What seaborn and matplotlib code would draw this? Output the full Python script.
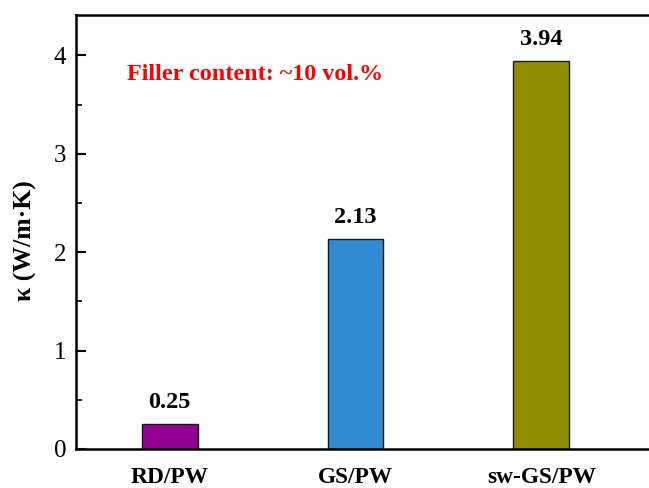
import matplotlib
matplotlib.use("Agg")
import matplotlib.pyplot as plt
from matplotlib.ticker import MultipleLocator
import seaborn as sns
import pandas as pd

# Thermal conductivity of the three composites
samples = ["RD/PW", "GS/PW", "sw-GS/PW"]
kappa = [0.25, 2.13, 3.94]
bar_colors = ["#930093", "#318ad2", "#8f8f00"]

sns.set_theme(style="white")
plt.rcParams["font.family"] = ["Liberation Serif", "DejaVu Serif"]
plt.rcParams.update({"text.color": "black", "axes.labelcolor": "black",
                     "xtick.color": "black", "ytick.color": "black"})

df = pd.DataFrame({"sample": samples, "kappa": kappa})

fig = plt.figure(figsize=(6.49, 4.88), dpi=100)
ax = fig.add_axes([0.117, 0.080, 0.883, 0.889])

sns.barplot(data=df, x="sample", y="kappa", hue="sample", palette=bar_colors,
            width=0.3, edgecolor="#1a1a1a", linewidth=1.0, saturation=1,
            legend=False, ax=ax)

for i, v in enumerate(kappa):
    ax.annotate(f"{v:.2f}", xy=(i, v), xytext=(0, 8), textcoords="offset points",
                ha="center", va="bottom", fontsize=17.5, fontweight="bold", color="black")

ax.text(-0.23, 3.81, "Filler content: ~10 vol.%", color="#ff0000", fontsize=17.4,
        fontweight="bold", ha="left", va="center")

ax.set_xlim(-0.505, 2.58)
ax.set_ylim(0, 4.41)
ax.yaxis.set_major_locator(MultipleLocator(1))
ax.yaxis.set_minor_locator(MultipleLocator(0.5))

ax.set_xlabel("")
ax.set_ylabel("κ (W/m·K)", fontsize=18.5, fontweight="bold", color="black")
ax.yaxis.set_label_coords(-0.068, 0.48)

for side in ["left", "bottom", "top"]:
    ax.spines[side].set_linewidth(1.8)
    ax.spines[side].set_color("black")
ax.spines["right"].set_visible(False)

ax.tick_params(axis="y", which="major", direction="in", length=7, width=1.5,
               labelsize=18, pad=7, left=True, colors="black")
ax.tick_params(axis="y", which="minor", direction="in", length=4, width=1.2, left=True)
ax.tick_params(axis="x", which="major", direction="in", length=0, labelsize=16.8, pad=13,
               labelcolor="black")
for lbl in ax.get_xticklabels():
    lbl.set_fontweight("bold")

fig.savefig("out.png", dpi=100)
